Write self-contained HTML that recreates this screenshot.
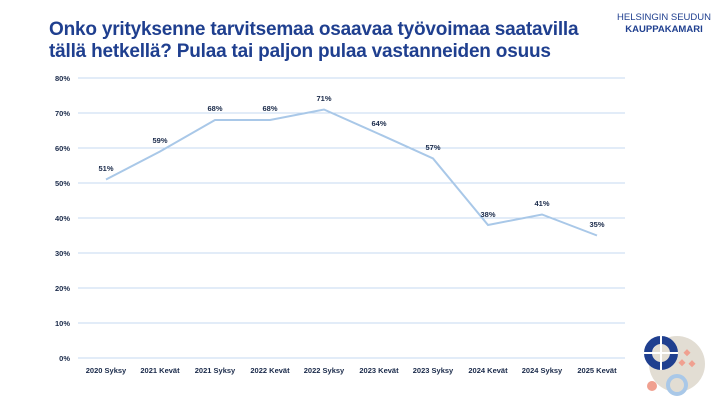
<!DOCTYPE html>
<html><head><meta charset="utf-8"><style>
body{margin:0;background:#fff;width:720px;height:405px;overflow:hidden;font-family:"Liberation Sans",sans-serif}
.t{position:absolute;left:49px;top:19px;font-size:19px;font-weight:bold;color:#1f3f8f;line-height:22px;letter-spacing:-0.2px}
.l{position:absolute;left:616px;top:12px;width:96px;font-size:9.5px;color:#1f3f8f;line-height:12px;text-align:center}
</style></head><body>
<div class="t">Onko yrityksenne tarvitsemaa osaavaa työvoimaa saatavilla<br>tällä hetkellä? Pulaa tai paljon pulaa vastanneiden osuus</div>
<div class="l">HELSINGIN SEUDUN<br><b>KAUPPAKAMARI</b></div>
<svg width="720" height="405" style="position:absolute;left:0;top:0" font-family="Liberation Sans" font-weight="bold">
<g stroke="#c5d9f0" stroke-width="1">
<line x1="78" y1="78" x2="625" y2="78"/><line x1="78" y1="113" x2="625" y2="113"/><line x1="78" y1="148" x2="625" y2="148"/><line x1="78" y1="183" x2="625" y2="183"/><line x1="78" y1="218" x2="625" y2="218"/><line x1="78" y1="253" x2="625" y2="253"/><line x1="78" y1="288" x2="625" y2="288"/><line x1="78" y1="323" x2="625" y2="323"/><line x1="78" y1="358" x2="625" y2="358"/>
</g>
<g font-size="7.5" fill="#1a2a4a" text-anchor="end">
<text x="70" y="81">80%</text><text x="70" y="116">70%</text><text x="70" y="151">60%</text><text x="70" y="186">50%</text><text x="70" y="221">40%</text><text x="70" y="256">30%</text><text x="70" y="291">20%</text><text x="70" y="326">10%</text><text x="70" y="361">0%</text>
</g>
<g font-size="7.5" fill="#1a2a4a" text-anchor="middle">
<text x="106" y="373">2020 Syksy</text><text x="160" y="373">2021 Kevät</text><text x="215" y="373">2021 Syksy</text><text x="270" y="373">2022 Kevät</text><text x="324" y="373">2022 Syksy</text><text x="379" y="373">2023 Kevät</text><text x="433" y="373">2023 Syksy</text><text x="488" y="373">2024 Kevät</text><text x="542" y="373">2024 Syksy</text><text x="597" y="373">2025 Kevät</text>
</g>
<polyline fill="none" stroke="#a9c8e8" stroke-width="2" points="106,179.5 160,151.5 215,120 270,120 324,109.5 379,134 433,158.5 488,225 542,214.5 597,235.5"/>
<g font-size="7.5" fill="#1a2a4a" text-anchor="middle">
<text x="106" y="171">51%</text><text x="160" y="143">59%</text><text x="215" y="111">68%</text><text x="270" y="111">68%</text><text x="324" y="101">71%</text><text x="379" y="126">64%</text><text x="433" y="150">57%</text><text x="488" y="217">38%</text><text x="542" y="206">41%</text><text x="597" y="227">35%</text>
</g>
<circle cx="677" cy="364" r="28" fill="#e2ddd3"/>
<circle cx="661" cy="353" r="13" fill="none" stroke="#1f3f8f" stroke-width="8"/>
<line x1="661" y1="336" x2="661" y2="370" stroke="#fff" stroke-width="2"/>
<line x1="644" y1="353" x2="678" y2="353" stroke="#fff" stroke-width="2"/>
<rect x="685" y="350" width="5" height="5" fill="#f0a090" transform="rotate(45 687 352)"/>
<rect x="680" y="360" width="5" height="5" fill="#f0a090" transform="rotate(45 682 362)"/>
<rect x="690" y="361" width="5" height="5" fill="#f0a090" transform="rotate(45 692 363)"/>
<circle cx="652" cy="386" r="5" fill="#f0a090"/>
<circle cx="677" cy="385" r="9" fill="none" stroke="#a9c8e8" stroke-width="4"/>
</svg>
</body></html>
